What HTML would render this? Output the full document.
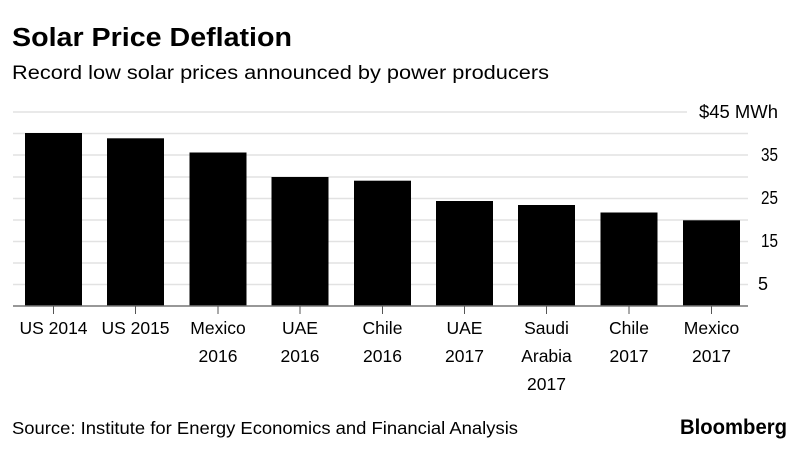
<!DOCTYPE html>
<html><head><style>body{margin:0;background:#fff}svg{display:block}text{font-family:"Liberation Sans",Arial,sans-serif}</style></head>
<body>
<svg width="799" height="449" viewBox="0 0 799 449">
<text x="12" y="46" font-size="25.5" font-weight="bold" fill="#000" textLength="280" lengthAdjust="spacingAndGlyphs">Solar Price Deflation</text>
<text x="12" y="79" font-size="19" fill="#000" textLength="537" lengthAdjust="spacingAndGlyphs">Record low solar prices announced by power producers</text>
<g stroke="#e2e2e2" stroke-width="1.5">
<line x1="13" x2="687" y1="112" y2="112"/>
<line x1="13" x2="748" y1="133.5" y2="133.5"/>
<line x1="13" x2="748" y1="155" y2="155"/>
<line x1="13" x2="748" y1="177" y2="177"/>
<line x1="13" x2="748" y1="198.5" y2="198.5"/>
<line x1="13" x2="748" y1="220" y2="220"/>
<line x1="13" x2="748" y1="241.5" y2="241.5"/>
<line x1="13" x2="748" y1="263" y2="263"/>
<line x1="13" x2="748" y1="284.5" y2="284.5"/>
</g>
<g fill="#000">
<rect x="25" y="133" width="57" height="173"/>
<rect x="107" y="138.3" width="57" height="167.7"/>
<rect x="189.5" y="152.5" width="57" height="153.5"/>
<rect x="271.5" y="177" width="57" height="129"/>
<rect x="354" y="180.7" width="57" height="125.3"/>
<rect x="436" y="201" width="57" height="105"/>
<rect x="518" y="205" width="57" height="101"/>
<rect x="600.5" y="212.5" width="57" height="93.5"/>
<rect x="683" y="220.3" width="57" height="85.7"/>
</g>
<line x1="13" x2="748" y1="306" y2="306" stroke="#777" stroke-width="1.5"/>
<g stroke="#555" stroke-width="1">
<line x1="53.5" x2="53.5" y1="306" y2="314"/><line x1="135.5" x2="135.5" y1="306" y2="314"/><line x1="218" x2="218" y1="306" y2="314"/><line x1="300" x2="300" y1="306" y2="314"/><line x1="382.5" x2="382.5" y1="306" y2="314"/><line x1="464.5" x2="464.5" y1="306" y2="314"/><line x1="546.5" x2="546.5" y1="306" y2="314"/><line x1="629" x2="629" y1="306" y2="314"/><line x1="711.5" x2="711.5" y1="306" y2="314"/>
</g>
<g font-size="18" fill="#000" text-anchor="end">
<text x="778" y="118" textLength="79" lengthAdjust="spacingAndGlyphs">$45 MWh</text>
<text x="778" y="161" textLength="17" lengthAdjust="spacingAndGlyphs">35</text>
<text x="778" y="204" textLength="17" lengthAdjust="spacingAndGlyphs">25</text>
<text x="778" y="247" textLength="17" lengthAdjust="spacingAndGlyphs">15</text>
<text x="768" y="290">5</text>
</g>
<g font-size="17.5" fill="#000" text-anchor="middle">
<text x="53.5" y="334">US 2014</text>
<text x="135.5" y="334">US 2015</text>
<text x="218" y="334">Mexico</text><text x="218" y="362">2016</text>
<text x="300" y="334">UAE</text><text x="300" y="362">2016</text>
<text x="382.5" y="334">Chile</text><text x="382.5" y="362">2016</text>
<text x="464.5" y="334">UAE</text><text x="464.5" y="362">2017</text>
<text x="546.5" y="334">Saudi</text><text x="546.5" y="362">Arabia</text><text x="546.5" y="390">2017</text>
<text x="629" y="334">Chile</text><text x="629" y="362">2017</text>
<text x="711.5" y="334">Mexico</text><text x="711.5" y="362">2017</text>
</g>
<text x="12" y="434" font-size="17.5" fill="#000" textLength="506" lengthAdjust="spacingAndGlyphs">Source: Institute for Energy Economics and Financial Analysis</text>
<text x="787" y="434" font-size="21" font-weight="bold" fill="#000" text-anchor="end" textLength="107" lengthAdjust="spacingAndGlyphs">Bloomberg</text>
</svg>
</body></html>
